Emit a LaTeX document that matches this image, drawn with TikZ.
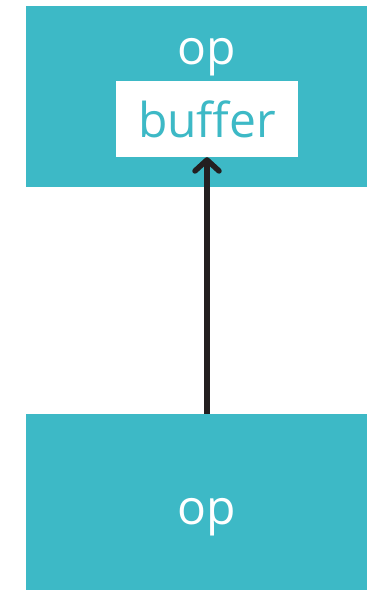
\documentclass[tikz,border=0pt]{standalone}
\usepackage{fontspec}
\setmainfont{Open Sans}
\usetikzlibrary{arrows.meta}
\definecolor{teal1}{HTML}{3DB9C6}
\definecolor{arrowc}{HTML}{231F20}
\tikzset{
  opbox/.style={fill=teal1, draw=none, inner sep=0pt},
  optext/.style={text=white, font=\fontsize{48}{52}\selectfont, inner sep=0pt},
  bufbox/.style={fill=white, draw=none, inner sep=0pt, text=teal1, font=\fontsize{48}{52}\selectfont},
  flow/.style={line width=5.5pt, draw=arrowc, -{Straight Barb[length=11pt, width=24pt, line cap=round, round]}}
}
\begin{document}
\begin{tikzpicture}[x=1pt, y=1pt]
\useasboundingbox (0,0) rectangle (367,-590);
\node[opbox, minimum width=341pt, minimum height=181pt] (top) at (196.5,-96.5) {};
\node[bufbox, minimum width=182pt, minimum height=76pt] (buf) at (207,-119) {};
\node[text=teal1, font=\fontsize{48}{52}\selectfont, inner sep=0pt, anchor=base] (buflabel) at (207,-137) {buffer};
\node[optext, anchor=base] (toplabel) at (207,-64) {op};
\node[opbox, minimum width=341pt, minimum height=176pt] (bot) at (196.5,-502) {};
\node[optext, anchor=base] (botlabel) at (207,-524) {op};
\draw[flow] (bot.north -| buf.south) -- (buf.south);
\end{tikzpicture}
\end{document}
